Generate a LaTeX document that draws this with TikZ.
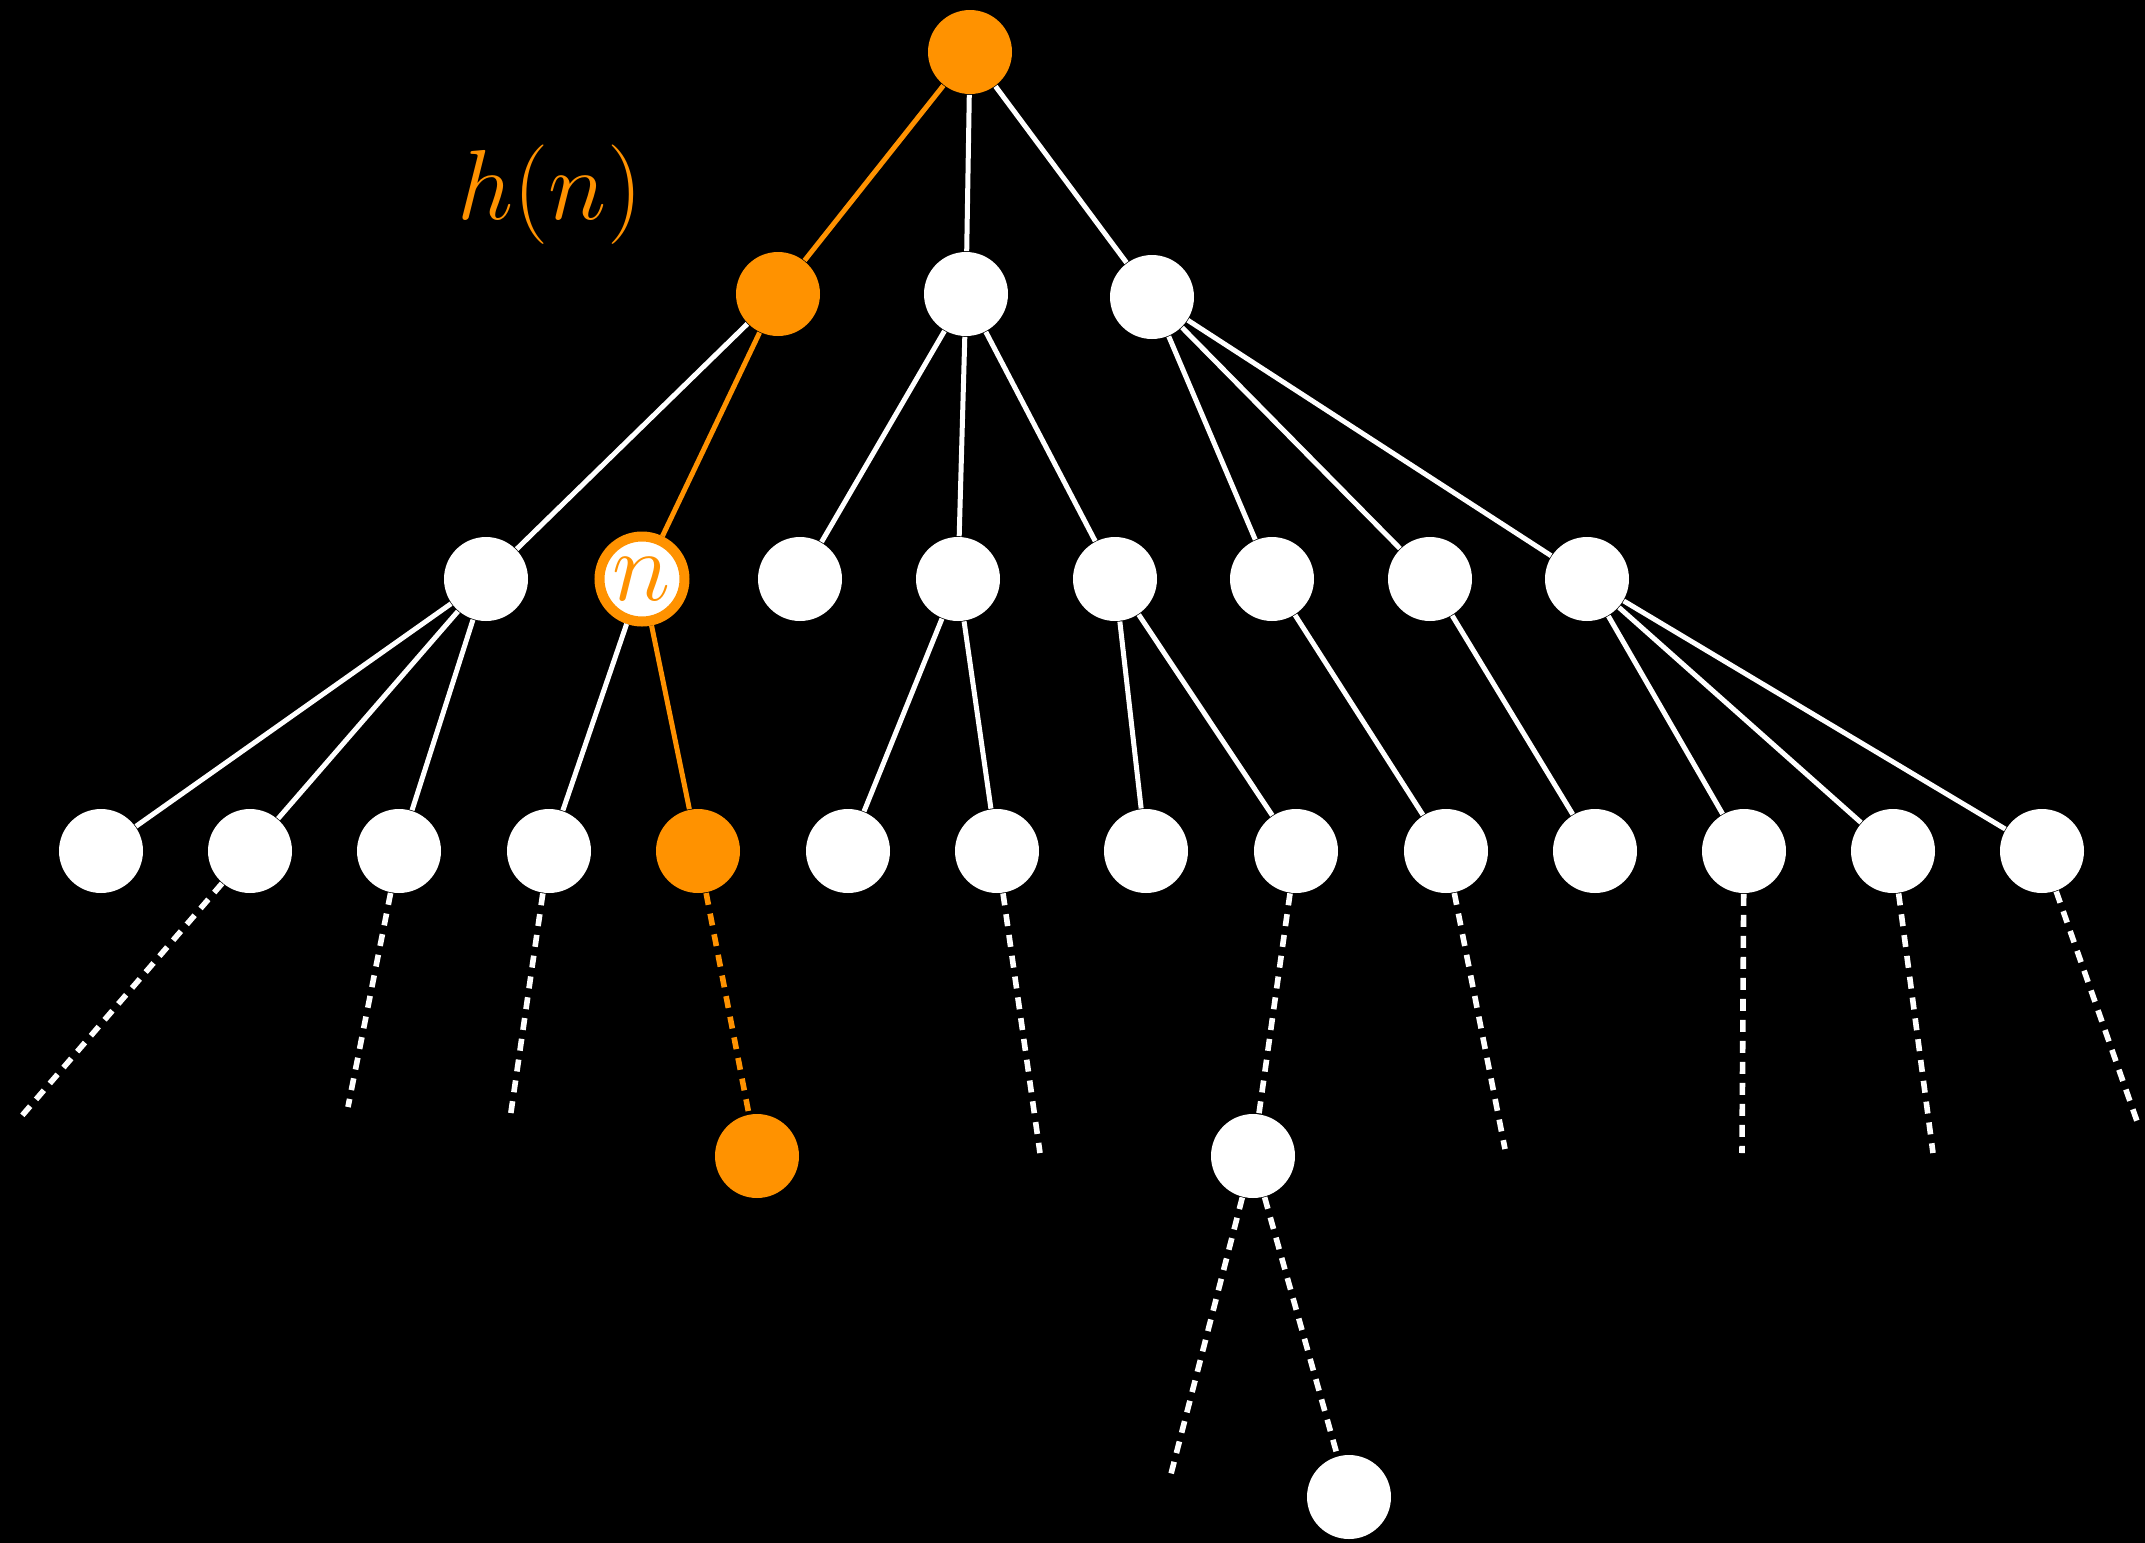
\documentclass[tikz,border=0pt]{standalone}
\usepackage{amsmath}
\definecolor{hor}{RGB}{255,146,0}
\begin{document}
\begin{tikzpicture}[x=0.25pt,y=-0.25pt,
  wn/.style={circle,fill=white,minimum size=21pt,inner sep=0pt},
  on/.style={circle,fill=hor,minimum size=21pt,inner sep=0pt},
  nn/.style={circle,fill=white,draw=hor,line width=2.5pt,minimum size=21.25pt,inner sep=0pt,text=hor,font=\fontsize{24}{28}\selectfont},
  ed/.style={draw=white,line width=1.25pt},
  oed/.style={draw=hor,line width=1.25pt},
  ded/.style={draw=white,line width=1.4pt,dash pattern=on 3pt off 2.25pt},
  oded/.style={draw=hor,line width=1.4pt,dash pattern=on 3pt off 2.25pt}]
\fill[black] (0,0) rectangle (2145,1543);
\useasboundingbox (0,0) rectangle (2145,1543);
% root
\node[on] (r) at (970,52) {};
% level 1
\node[on] (a1) at (778,294) {};
\node[wn] (a2) at (966,294) {};
\node[wn] (a3) at (1152,297) {};
% level 2
\node[wn] (b1) at (486,579) {};
\node[nn] (b2) at (642,579) {$n$};
\node[wn] (b3) at (800,579) {};
\node[wn] (b4) at (958,579) {};
\node[wn] (b5) at (1115,579) {};
\node[wn] (b6) at (1272,579) {};
\node[wn] (b7) at (1430,579) {};
\node[wn] (b8) at (1587,579) {};
% level 3
\node[wn] (c1) at (101,851) {};
\node[wn] (c2) at (250,851) {};
\node[wn] (c3) at (399,851) {};
\node[wn] (c4) at (549,851) {};
\node[on] (c5) at (698,851) {};
\node[wn] (c6) at (848,851) {};
\node[wn] (c7) at (997,851) {};
\node[wn] (c8) at (1146,851) {};
\node[wn] (c9) at (1296,851) {};
\node[wn] (c10) at (1446,851) {};
\node[wn] (c11) at (1595,851) {};
\node[wn] (c12) at (1744,851) {};
\node[wn] (c13) at (1893,851) {};
\node[wn] (c14) at (2042,851) {};
% level 4
\node[on] (d1) at (757,1156) {};
\node[wn] (d2) at (1253,1156) {};
\node[wn] (e1) at (1349,1497) {};
% free ends
\coordinate (f2) at (20,1118);
\coordinate (f3) at (348,1107);
\coordinate (f4) at (510,1119);
\coordinate (f7) at (1040,1153);
\coordinate (f10) at (1505,1149);
\coordinate (f12) at (1742,1153);
\coordinate (f13) at (1933,1153);
\coordinate (f14) at (2138,1124);
\coordinate (fd) at (1171,1474);
% label
\node[text=hor,inner sep=0pt,font=\fontsize{24}{28}\selectfont] (hl) at (550,195) {$h(n)$};
% edges
\draw[oed] (r) -- (a1);
\draw[ed] (r) -- (a2);
\draw[ed] (r) -- (a3);
\draw[ed] (a1) -- (b1);
\draw[oed] (a1) -- (b2);
\draw[ed] (a2) -- (b3);
\draw[ed] (a2) -- (b4);
\draw[ed] (a2) -- (b5);
\draw[ed] (a3) -- (b6);
\draw[ed] (a3) -- (b7);
\draw[ed] (a3) -- (b8);
\draw[ed] (b1) -- (c1);
\draw[ed] (b1) -- (c2);
\draw[ed] (b1) -- (c3);
\draw[ed] (b2) -- (c4);
\draw[oed] (b2) -- (c5);
\draw[ed] (b4) -- (c6);
\draw[ed] (b4) -- (c7);
\draw[ed] (b5) -- (c8);
\draw[ed] (b5) -- (c9);
\draw[ed] (b6) -- (c10);
\draw[ed] (b7) -- (c11);
\draw[ed] (b8) -- (c12);
\draw[ed] (b8) -- (c13);
\draw[ed] (b8) -- (c14);
% dashed
\draw[ded] (c2) -- (f2);
\draw[ded] (c3) -- (f3);
\draw[ded] (c4) -- (f4);
\draw[oded] (c5) -- (d1);
\draw[ded] (c7) -- (f7);
\draw[ded] (c9) -- (d2);
\draw[ded] (c10) -- (f10);
\draw[ded] (c12) -- (f12);
\draw[ded] (c13) -- (f13);
\draw[ded] (c14) -- (f14);
\draw[ded] (d2) -- (fd);
\draw[ded] (d2) -- (e1);
\end{tikzpicture}
\end{document}
